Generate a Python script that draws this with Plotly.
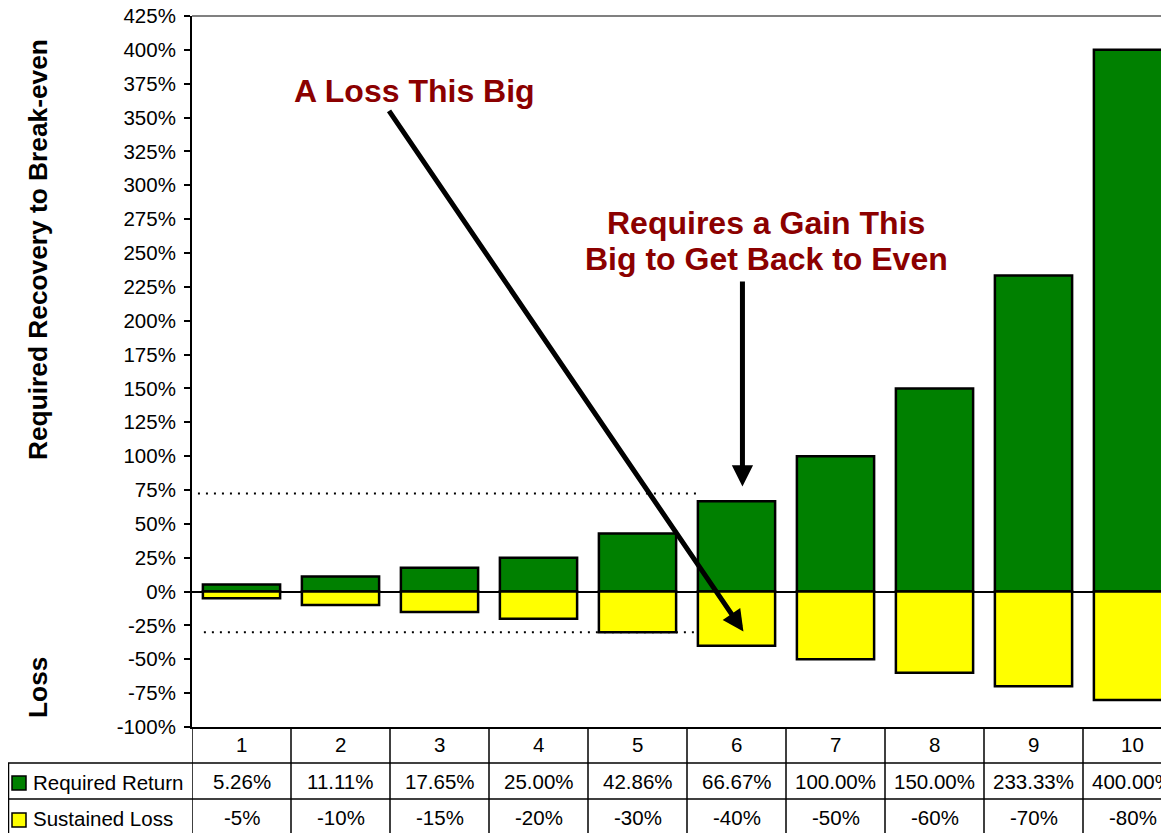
import plotly.graph_objects as go

categories = [1, 2, 3, 4, 5, 6, 7, 8, 9, 10]
required_return = [5.26, 11.11, 17.65, 25.00, 42.86, 66.67, 100.00, 150.00, 233.33, 400.00]
sustained_loss = [-5, -10, -15, -20, -30, -40, -50, -60, -70, -80]
y_ticks = list(range(-100, 426, 25))
y_tick_labels = [f"{v}%" for v in y_ticks]
row_names = ["Required Return", "Sustained Loss"]
row_colors = ["#008000", "#FFFF00"]

FONT = "Arial, Liberation Sans, sans-serif"
DARKRED = "#8B0000"

# page body has an 8px default margin; work in reference pixels and shift
OFF = 8
W, H = 1169 - OFF, 833 - OFF
L, T = 192 - OFF, 16 - OFF
B = 833 - 727
plot_w = W - L
plot_h = H - T - B
x_end = 0.5 + plot_w / 99.0

def px(xpix):
    return (xpix - OFF - L) / plot_w

def py(ypix):
    return (727 - ypix) / plot_h

fig = go.Figure()
fig.add_trace(go.Bar(x=categories, y=required_return, name=row_names[0], width=0.78,
                     marker=dict(color=row_colors[0], line=dict(color="black", width=2.5))))
fig.add_trace(go.Bar(x=categories, y=sustained_loss, name=row_names[1], width=0.78,
                     marker=dict(color=row_colors[1], line=dict(color="black", width=2.5))))

shapes = []
annotations = []

def txt(x, y, text, size, color="black", xref="paper", yref="paper", xanchor="center",
        angle=0):
    annotations.append(dict(x=x, y=y, xref=xref, yref=yref, text=text, showarrow=False,
                            xanchor=xanchor, yanchor="middle", textangle=angle,
                            font=dict(size=size, color=color, family=FONT)))

# top gray border
shapes.append(dict(type="line", xref="paper", yref="paper", x0=0, x1=1, y0=1, y1=1,
                   line=dict(color="#808080", width=2)))
# dotted reference lines
shapes.append(dict(type="line", xref="x", yref="y", x0=0.56, x1=5.6, y0=72.5, y1=72.5,
                   line=dict(color="black", width=2, dash="2px,6px")))
shapes.append(dict(type="line", xref="x", yref="y", x0=0.62, x1=5.6, y0=-30, y1=-30,
                   line=dict(color="black", width=2, dash="2px,6px")))

# data table grid
tbl_bottom = py(840)
for k in range(len(categories) + 1):
    shapes.append(dict(type="line", xref="x", yref="paper", x0=k + 0.5, x1=k + 0.5,
                       y0=0, y1=tbl_bottom, line=dict(color="black", width=1.5)))
for ypix in (763, 799):
    shapes.append(dict(type="line", xref="paper", yref="paper", x0=px(8), x1=1.02,
                       y0=py(ypix), y1=py(ypix), line=dict(color="black", width=1.5)))
shapes.append(dict(type="line", xref="paper", yref="paper", x0=px(8.5), x1=px(8.5),
                   y0=py(763), y1=tbl_bottom, line=dict(color="black", width=1.5)))

# header row + values
TS = 20.5
for c in categories:
    txt(c, py(745), str(c), TS, xref="x")
for c, v in zip(categories, required_return):
    txt(c, py(781), f"{v:.2f}%", TS, xref="x")
for c, v in zip(categories, sustained_loss):
    txt(c, py(817), f"{v}%", TS, xref="x")

# row headers with legend keys
for name, col, ymid in zip(row_names, row_colors, (783, 820)):
    shapes.append(dict(type="rect", xref="paper", yref="paper", x0=px(12), x1=px(26),
                       y0=py(ymid - 7), y1=py(ymid + 7), fillcolor=col,
                       line=dict(color="black", width=1.5)))
    txt(px(31), py(ymid - 1), name, TS, xanchor="left")

# axis titles
txt(px(38), py(250), "<b>Required Recovery to Break-even</b>", 26.3, angle=-90)
txt(px(38), py(688), "<b>Loss</b>", 26.3, angle=-90)

# callout texts
txt(px(414), py(91), "<b>A Loss This Big</b>", 32, color=DARKRED)
txt(px(766), py(223), "<b>Requires a Gain This</b>", 32, color=DARKRED)
txt(px(766), py(259), "<b>Big to Get Back to Even</b>", 32, color=DARKRED)

# arrows
annotations.append(dict(x=6.07, y=-29.5, xref="x", yref="y", ax=2.48, ay=356,
                        axref="x", ayref="y", text="", showarrow=True, arrowhead=2,
                        arrowsize=0.85, arrowwidth=5, arrowcolor="black", standoff=0))
annotations.append(dict(x=6.06, y=77.5, xref="x", yref="y", ax=6.06, ay=230,
                        axref="x", ayref="y", text="", showarrow=True, arrowhead=2,
                        arrowsize=0.85, arrowwidth=5, arrowcolor="black", standoff=0))

fig.update_layout(
    width=W, height=H,
    margin=dict(l=L, r=0, t=T, b=B, autoexpand=False),
    barmode="relative",
    showlegend=False,
    plot_bgcolor="white", paper_bgcolor="white",
    font=dict(family=FONT, size=19, color="black"),
    shapes=shapes, annotations=annotations,
    xaxis=dict(range=[0.5, x_end], showticklabels=False, showgrid=False, zeroline=False,
               showline=True, linecolor="black", linewidth=2, ticks="", automargin=False),
    yaxis=dict(range=[-100, 425], tickvals=y_ticks, ticktext=y_tick_labels,
               showgrid=False, zeroline=True, zerolinecolor="black", zerolinewidth=1.5,
               showline=True, linecolor="black", linewidth=2, ticks="outside",
               ticklen=6, tickwidth=1.5, tickcolor="black", ticklabeloverflow="allow",
               ticklabelstandoff=4, automargin=False,
               tickfont=dict(size=20.5, family=FONT, color="black")),
)

fig.write_html("out.html")
